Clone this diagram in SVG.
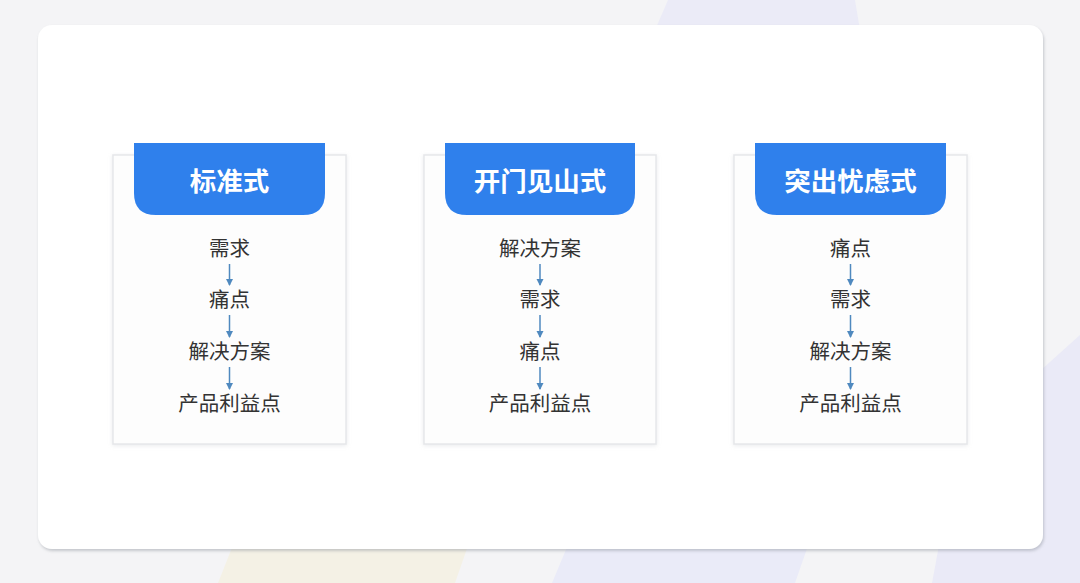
<svg xmlns="http://www.w3.org/2000/svg" width="1080" height="583" viewBox="0 0 1080 583">
<defs>
<style>
.card{fill:#fdfdfd;stroke:#e6e7ea;stroke-width:1.5}
.tab{fill:#2f80ec}
.title{font-family:"Noto Sans CJK SC","Noto Sans",sans-serif;font-size:26.5px;font-weight:bold;fill:#ffffff;text-anchor:middle}
.item{font-family:"Noto Sans CJK SC","Noto Sans",sans-serif;font-size:20.5px;fill:#333333;text-anchor:middle}
.arr{stroke:#4f89bf;stroke-width:1.5;fill:none;marker-end:url(#ah)}
</style>
<marker id="ah" markerWidth="8" markerHeight="8" refX="6" refY="4" orient="auto" markerUnits="userSpaceOnUse">
<path d="M0,0.5 L7,4 L0,7.5 Z" fill="#4f89bf"/>
</marker>
<filter id="sh" x="-5%" y="-5%" width="110%" height="110%">
<feDropShadow dx="1" dy="2" stdDeviation="1.5" flood-color="#8a8f99" flood-opacity="0.45"/>
</filter>
<filter id="sh2" x="-10%" y="-10%" width="120%" height="120%">
<feDropShadow dx="0" dy="1" stdDeviation="2" flood-color="#c0c4cc" flood-opacity="0.35"/>
</filter>
</defs>
<rect x="0" y="0" width="1080" height="583" fill="#f4f4f6"/>
<polygon points="668,0 855,0 860,30 655,30" fill="#ebebf7"/>
<polygon points="235,540 470,540 455,583 218,583" fill="#f4f1e5"/>
<polygon points="570,540 810,540 795,583 552,583" fill="#eaebf8"/>
<polygon points="1080,335 1030,380 1030,583 1080,583" fill="#eaeaf7"/>
<polygon points="940,540 1080,540 1080,583 932,583" fill="#eaeaf7"/>
<rect x="38" y="25" width="1005" height="524" rx="14" fill="#ffffff" filter="url(#sh)"/>

<g id="col1">
<rect class="card" x="113" y="155" width="233" height="289" filter="url(#sh2)"/>
<path class="tab" d="M134,143 H325 V193 Q325,215 303,215 H156 Q134,215 134,193 Z"/>
<text class="title" x="229.5" y="191">标准式</text>
<text class="item" x="229.5" y="256">需求</text>
<text class="item" x="229.5" y="307">痛点</text>
<text class="item" x="229.5" y="359">解决方案</text>
<text class="item" x="229.5" y="411">产品利益点</text>
</g>
<g id="col2">
<rect class="card" x="424" y="155" width="232" height="289" filter="url(#sh2)"/>
<path class="tab" d="M445,143 H635 V193 Q635,215 613,215 H467 Q445,215 445,193 Z"/>
<text class="title" x="540" y="191">开门见山式</text>
<text class="item" x="540" y="256">解决方案</text>
<text class="item" x="540" y="307">需求</text>
<text class="item" x="540" y="359">痛点</text>
<text class="item" x="540" y="411">产品利益点</text>
</g>
<g id="col3">
<rect class="card" x="734" y="155" width="233" height="289" filter="url(#sh2)"/>
<path class="tab" d="M755,143 H946 V193 Q946,215 924,215 H777 Q755,215 755,193 Z"/>
<text class="title" x="850.5" y="191">突出忧虑式</text>
<text class="item" x="850.5" y="256">痛点</text>
<text class="item" x="850.5" y="307">需求</text>
<text class="item" x="850.5" y="359">解决方案</text>
<text class="item" x="850.5" y="411">产品利益点</text>
</g>
<g id="connectors">
<line class="arr" x1="229.5" y1="264" x2="229.5" y2="285"/>
<line class="arr" x1="229.5" y1="315" x2="229.5" y2="337"/>
<line class="arr" x1="229.5" y1="367" x2="229.5" y2="389"/>
<line class="arr" x1="540" y1="264" x2="540" y2="285"/>
<line class="arr" x1="540" y1="315" x2="540" y2="337"/>
<line class="arr" x1="540" y1="367" x2="540" y2="389"/>
<line class="arr" x1="850.5" y1="264" x2="850.5" y2="285"/>
<line class="arr" x1="850.5" y1="315" x2="850.5" y2="337"/>
<line class="arr" x1="850.5" y1="367" x2="850.5" y2="389"/>
</g>
</svg>
